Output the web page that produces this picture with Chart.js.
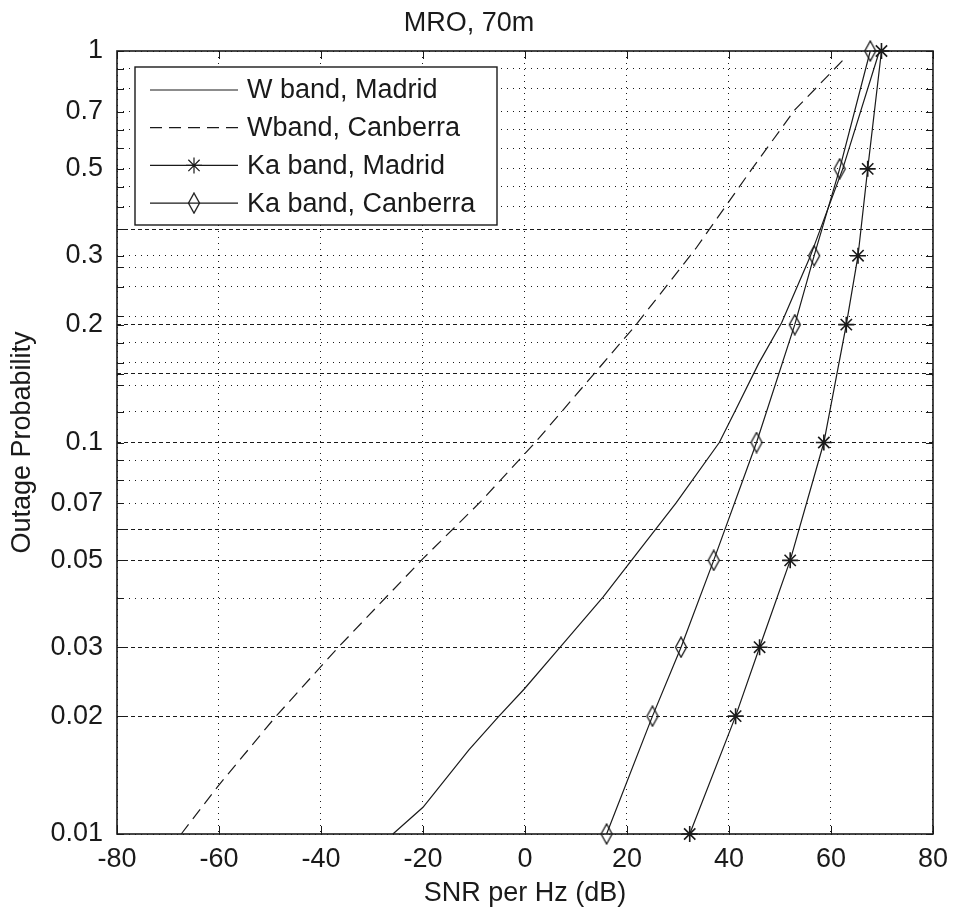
<html>
  <head>
    <style>
      body { margin: 0; background: #fff; }
    </style>
    <script src="https://cdn.jsdelivr.net/npm/chart.js@4.4.1/dist/chart.umd.min.js"></script>
  </head>
  <body>
    <canvas id="myChart" width="957" height="914"></canvas>
    <script>
      // outage probability levels where the Ka band markers sit
      const probKa = [0.01, 0.02, 0.03, 0.05, 0.1, 0.2, 0.3, 0.5, 1];
      const snrKaMadrid = [32.3, 41.3, 46.0, 52.0, 58.6, 63.0, 65.3, 67.2, 69.9];
      const snrKaCanberra = [16.0, 25.0, 30.6, 37.0, 45.4, 52.9, 56.7, 61.7, 67.7];

      // W band curves
      const probWMadrid = [0.01, 0.0117, 0.0164, 0.02, 0.0235, 0.03, 0.0403, 0.053, 0.07, 0.1, 0.121, 0.159, 0.202, 0.298, 0.5, 1];
      const snrWMadrid = [-25.9, -20.0, -11.0, -5.1, -0.1, 6.9, 15.3, 22.4, 29.6, 38.1, 41.3, 45.8, 50.3, 55.9, 62.3, 69.5];
      const probWCanberra = [0.01, 0.0132, 0.02, 0.03, 0.0403, 0.0505, 0.0706, 0.1, 0.2, 0.313, 0.5, 0.707, 0.961];
      const snrWCanberra = [-67.4, -60.3, -48.8, -36.6, -27.2, -20.0, -8.7, 2.0, 21.8, 33.5, 44.5, 52.9, 62.8];

      const seriesNames = ["W band, Madrid", "Wband, Canberra", "Ka band, Madrid", "Ka band, Canberra"];

      // axis ticks
      const xTicks = [-80, -60, -40, -20, 0, 20, 40, 60, 80];
      const yLabels = [0.01, 0.02, 0.03, 0.05, 0.07, 0.1, 0.2, 0.3, 0.5, 0.7, 1];
      const yGrid = [0.01, 0.02, 0.03, 0.04, 0.05, 0.06, 0.07, 0.08, 0.09, 0.1, 0.12, 0.14, 0.15, 0.16, 0.18,
                     0.2, 0.21, 0.25, 0.28, 0.3, 0.35, 0.4, 0.45, 0.5, 0.565, 0.63, 0.7, 0.8, 0.9, 1];
      const yDashed = [0.02, 0.03, 0.05, 0.06, 0.1, 0.15, 0.2, 0.35];

      const FONT = "'Liberation Sans', Arial, sans-serif";
      const INK = "#1a1a1a";

      function pts(xs, ys) {
        return xs.map((x, i) => ({ x: x, y: ys[i] }));
      }
      function near(list, v) {
        return list.some(l => Math.abs(l - v) < 1e-9);
      }

      // tall diamond marker like the stretched matlab 'd'
      const diamond = document.createElement("canvas");
      diamond.width = 14; diamond.height = 22;
      (function () {
        const c = diamond.getContext("2d");
        c.strokeStyle = INK;
        c.lineWidth = 1.3;
        c.beginPath();
        c.moveTo(7, 1); c.lineTo(12.5, 11); c.lineTo(7, 21); c.lineTo(1.5, 11);
        c.closePath();
        c.stroke();
      })();

      // frame, inward ticks and the boxed legend
      const matlabBox = {
        id: "matlabBox",
        afterDatasetsDraw(chart) {
          const ctx = chart.ctx;
          const a = chart.chartArea;
          const xs = chart.scales.x, ys = chart.scales.y;
          ctx.save();
          ctx.strokeStyle = INK;
          ctx.setLineDash([]);
          ctx.lineWidth = 1;
          ctx.beginPath();
          xTicks.forEach(v => {
            const px = Math.round(xs.getPixelForValue(v)) + 0.5;
            ctx.moveTo(px, a.bottom); ctx.lineTo(px, a.bottom - 8);
            ctx.moveTo(px, a.top); ctx.lineTo(px, a.top + 8);
          });
          yGrid.forEach(v => {
            const py = Math.round(ys.getPixelForValue(v)) + 0.5;
            ctx.moveTo(a.left, py); ctx.lineTo(a.left + 7, py);
            ctx.moveTo(a.right, py); ctx.lineTo(a.right - 7, py);
          });
          ctx.stroke();
          ctx.lineWidth = 1.6;
          ctx.strokeRect(a.left, a.top, a.right - a.left, a.bottom - a.top);

          // legend
          const lx = a.left + 18, ly = a.top + 16, lw = 362, lh = 158;
          ctx.fillStyle = "#fff";
          ctx.fillRect(lx, ly, lw, lh);
          ctx.lineWidth = 1.4;
          ctx.strokeRect(lx, ly, lw, lh);
          ctx.font = "27px " + FONT;
          ctx.textBaseline = "middle";
          ctx.textAlign = "left";
          chart.data.datasets.forEach((ds, i) => {
            const y = ly + 23 + i * 37.7;
            ctx.strokeStyle = INK;
            ctx.lineWidth = ds.borderWidth;
            ctx.setLineDash(ds.borderDash || []);
            ctx.beginPath();
            ctx.moveTo(lx + 15, y); ctx.lineTo(lx + 103, y);
            ctx.stroke();
            ctx.setLineDash([]);
            if (ds.pointRadius > 0) {
              Chart.helpers.drawPoint(ctx, {
                pointStyle: ds.pointStyle, radius: ds.pointRadius, borderWidth: ds.pointBorderWidth, rotation: 0
              }, lx + 59, y);
            }
            ctx.fillStyle = INK;
            ctx.fillText(ds.label, lx + 112, y + 1);
          });
          ctx.restore();
        }
      };

      const ctx = document.getElementById("myChart").getContext("2d");
      const myChart = new Chart(ctx, {
        type: "scatter",
        data: {
          datasets: [{
            label: seriesNames[0],
            data: pts(snrWMadrid, probWMadrid),
            showLine: true, borderColor: INK, borderWidth: 1.2,
            pointRadius: 0, tension: 0, clip: false
          }, {
            label: seriesNames[1],
            data: pts(snrWCanberra, probWCanberra),
            showLine: true, borderColor: INK, borderWidth: 1.2, borderDash: [12, 7],
            pointRadius: 0, tension: 0, clip: false
          }, {
            label: seriesNames[2],
            data: pts(snrKaMadrid, probKa),
            showLine: true, borderColor: INK, borderWidth: 1.2,
            pointStyle: "star", pointRadius: 8, pointBorderWidth: 1.6,
            pointBorderColor: INK, pointBackgroundColor: INK, tension: 0, clip: false
          }, {
            label: seriesNames[3],
            data: pts(snrKaCanberra, probKa),
            showLine: true, borderColor: INK, borderWidth: 1.2,
            pointStyle: diamond, pointRadius: 9, pointBorderWidth: 1.3,
            pointBorderColor: INK, tension: 0, clip: false
          }]
        },
        options: {
          responsive: false,
          animation: false,
          devicePixelRatio: 1,
          layout: { padding: { left: 0, right: 19, top: 0, bottom: 0 } },
          plugins: {
            legend: { display: false },
            tooltip: { enabled: false },
            title: {
              display: true,
              text: "MRO, 70m",
              color: INK,
              font: { family: FONT, size: 27, weight: "normal", lineHeight: 1.2 },
              padding: { top: 7, bottom: 11.6 }
            }
          },
          scales: {
            x: {
              type: "linear",
              min: -80, max: 80,
              afterBuildTicks: s => { s.ticks = xTicks.map(v => ({ value: v })); },
              afterFit: s => { s.height = 80; },
              ticks: {
                autoSkip: false, maxRotation: 0, padding: 9, color: INK,
                font: { family: FONT, size: 27 }
              },
              grid: { color: INK, lineWidth: 1, drawTicks: false },
              border: { display: false, dash: [1, 5] },
              title: {
                display: true, text: "SNR per Hz (dB)", color: INK,
                font: { family: FONT, size: 27, lineHeight: 1.2 },
                padding: { top: 0, bottom: 4 }
              }
            },
            y: {
              type: "logarithmic",
              min: 0.01, max: 1,
              afterBuildTicks: s => { s.ticks = yGrid.map(v => ({ value: v })); },
              afterFit: s => { s.width = 117; },
              ticks: {
                autoSkip: false, padding: 14, color: INK,
                font: { family: FONT, size: 27 },
                callback: v => near(yLabels, v) ? String(v) : ""
              },
              grid: { color: INK, lineWidth: 1, drawTicks: false },
              border: {
                display: false,
                dash: c => (c.tick && near(yDashed, c.tick.value)) ? [4, 3] : [1, 5]
              },
              title: {
                display: true, text: "Outage Probability", color: INK,
                font: { family: FONT, size: 27, lineHeight: 1.2 },
                padding: { top: 6, bottom: 0 }
              }
            }
          }
        },
        plugins: [matlabBox]
      });
    </script>
  </body>
</html>
